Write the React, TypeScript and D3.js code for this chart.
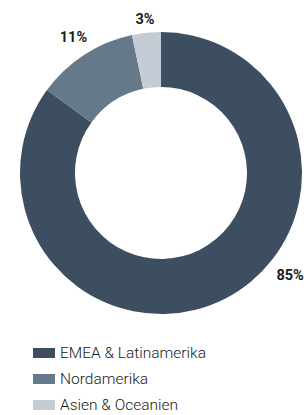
import { useEffect, useRef } from 'react';
import * as d3 from 'd3';

const regions = ['EMEA & Latinamerika', 'Nordamerika', 'Asien & Oceanien'];
const shares = [85, 11.7, 3.3];
const shareLabels = ['85%', '11%', '3%'];
const colors = ['#3c4e60', '#66798b', '#c4cdd6'];

export default function App() {
  const svgRef = useRef<SVGSVGElement>(null);

  useEffect(() => {
    if (!svgRef.current) return;
    const width = 308;
    const height = 415;
    const cx = 161;
    const cy = 173;
    const outer = 141;
    const inner = 86;

    const svg = d3.select(svgRef.current).attr('width', width).attr('height', height);
    svg.selectAll('*').remove();

    const data = regions.map((r, i) => ({ region: r, value: shares[i], label: shareLabels[i], color: colors[i] }));

    const pie = d3
      .pie<(typeof data)[number]>()
      .value((d) => d.value)
      .sort(null);
    const arcs = pie(data);
    const arc = d3.arc<d3.PieArcDatum<(typeof data)[number]>>().innerRadius(inner).outerRadius(outer);

    const g = svg.append('g').attr('transform', `translate(${cx},${cy})`);
    g.selectAll('path')
      .data(arcs)
      .enter()
      .append('path')
      .attr('d', arc)
      .attr('fill', (d) => d.data.color);

    // big slice label sits lower-right rather than at mid angle
    const labelFrac = [0.42, 0.5, 0.5];
    const labelR = [165, 161, 154];
    g.selectAll('.lbl')
      .data(arcs)
      .enter()
      .append('text')
      .attr('class', 'lbl')
      .attr('x', (d, i) => {
        const a = d.startAngle + (d.endAngle - d.startAngle) * labelFrac[i];
        return Math.sin(a) * labelR[i];
      })
      .attr('y', (d, i) => {
        const a = d.startAngle + (d.endAngle - d.startAngle) * labelFrac[i];
        return -Math.cos(a) * labelR[i];
      })
      .attr('text-anchor', 'middle')
      .attr('dominant-baseline', 'central')
      .style('font-family', 'Roboto, sans-serif')
      .style('font-size', '14.5px')
      .style('font-weight', '700')
      .style('fill', '#1a1a1a')
      .text((d) => d.data.label);

    const legend = svg.append('g').attr('transform', 'translate(33, 348)');
    const rows = legend
      .selectAll('g')
      .data(data)
      .enter()
      .append('g')
      .attr('transform', (_, i) => `translate(0, ${i * 26})`);
    rows.append('rect').attr('width', 22).attr('height', 10).attr('fill', (d) => d.color);
    rows
      .append('text')
      .attr('x', 27)
      .attr('y', 5)
      .attr('dominant-baseline', 'central')
      .style('font-family', 'Roboto, sans-serif')
      .style('font-size', '15.5px')
      .style('font-weight', '300')
      .style('fill', '#1a1a1a')
      .text((d) => d.region);
  }, []);

  return (
    <div style={{ position: 'absolute', left: 0, top: 0 }}>
      <svg ref={svgRef} style={{ display: 'block' }} />
    </div>
  );
}
